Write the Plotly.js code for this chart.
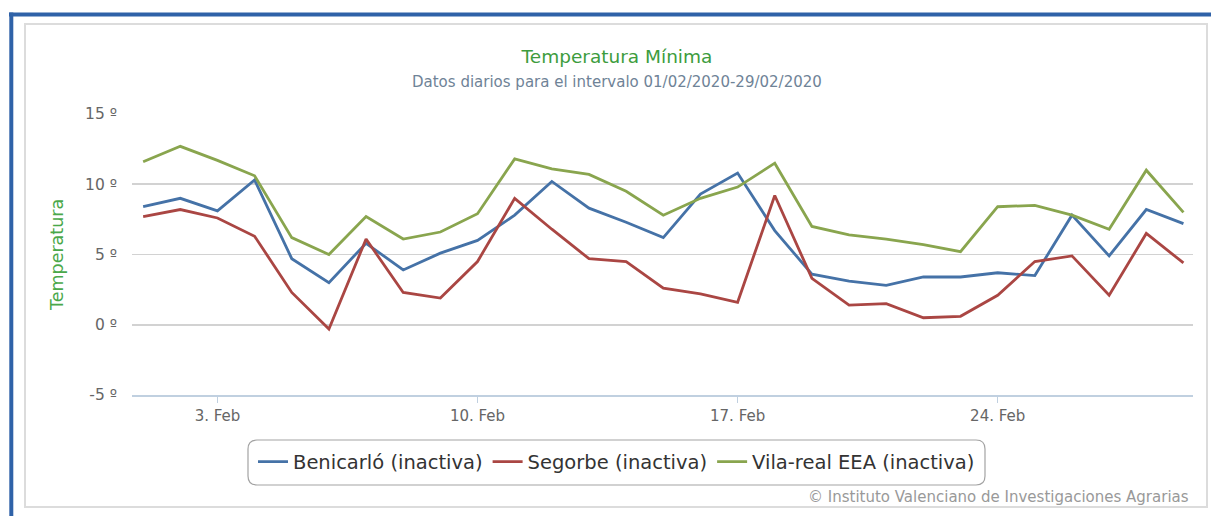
<!DOCTYPE html>
<html>
<head>
<meta charset="utf-8">
<script src="https://cdn.plot.ly/plotly-3.0.1.min.js"></script>
<style>
  html, body { margin: 0; padding: 0; background: #ffffff; }
  #chart { width: 1211px; height: 516px; }
</style>
</head>
<body>
<div id="chart"></div>
<script>
// ---- data ----
const dates = ['2020-02-01','2020-02-02','2020-02-03','2020-02-04','2020-02-05','2020-02-06','2020-02-07',
               '2020-02-08','2020-02-09','2020-02-10','2020-02-11','2020-02-12','2020-02-13','2020-02-14',
               '2020-02-15','2020-02-16','2020-02-17','2020-02-18','2020-02-19','2020-02-20','2020-02-21',
               '2020-02-22','2020-02-23','2020-02-24','2020-02-25','2020-02-26','2020-02-27','2020-02-28','2020-02-29'];
const benicarlo = [8.4, 9.0, 8.1, 10.3, 4.7, 3.0, 5.8, 3.9, 5.1, 6.0, 7.8, 10.2, 8.3, 7.3, 6.2, 9.3, 10.8, 6.7, 3.6, 3.1, 2.8, 3.4, 3.4, 3.7, 3.5, 7.8, 4.9, 8.2, 7.2];
const segorbe   = [7.7, 8.2, 7.6, 6.3, 2.3, -0.3, 6.1, 2.3, 1.9, 4.5, 9.0, 6.8, 4.7, 4.5, 2.6, 2.2, 1.6, 9.2, 3.3, 1.4, 1.5, 0.5, 0.6, 2.1, 4.5, 4.9, 2.1, 6.5, 4.4];
const vilareal  = [11.6, 12.7, 11.7, 10.6, 6.2, 5.0, 7.7, 6.1, 6.6, 7.9, 11.8, 11.1, 10.7, 9.5, 7.8, 9.0, 9.8, 11.5, 7.0, 6.4, 6.1, 5.7, 5.2, 8.4, 8.5, 7.8, 6.8, 11.0, 8.0];
const seriesNames = ['Benicarló (inactiva)', 'Segorbe (inactiva)', 'Vila-real EEA (inactiva)'];
const tickDates  = ['2020-02-03','2020-02-10','2020-02-17','2020-02-24'];
const tickLabels = ['3. Feb','10. Feb','17. Feb','24. Feb'];
const yTicks = [-5, 0, 5, 10, 15];
const yTickLabels = ['-5 º', '0 º', '5 º', '10 º', '15 º'];

// ---- layout helpers (pixel -> paper) ----
const W = 1211, H = 516;
const mL = 132, mR = 18, mT = 114, mB = 121;
const pw = W - mL - mR, ph = H - mT - mB;
const px = x => (x - mL) / pw;
const py = y => (H - mB - y) / ph;

function roundRect(x0, y0, x1, y1, r) {
  const p = (x, y) => px(x) + ',' + py(y);
  return 'M' + p(x0 + r, y0) + ' L' + p(x1 - r, y0) + ' Q' + p(x1, y0) + ' ' + p(x1, y0 + r) +
         ' L' + p(x1, y1 - r) + ' Q' + p(x1, y1) + ' ' + p(x1 - r, y1) +
         ' L' + p(x0 + r, y1) + ' Q' + p(x0, y1) + ' ' + p(x0, y1 - r) +
         ' L' + p(x0, y0 + r) + ' Q' + p(x0, y0) + ' ' + p(x0 + r, y0) + ' Z';
}

const FONT = 'DejaVu Sans, Verdana, sans-serif';
const colors = ['#4572A7', '#AA4643', '#89A54E'];
const values = [benicarlo, segorbe, vilareal];

const traces = values.map((v, i) => ({
  x: dates, y: v, type: 'scatter', mode: 'lines', name: seriesNames[i],
  line: { color: colors[i], width: 2.8 }
}));

const layout = {
  width: W, height: H,
  margin: { l: mL, r: mR, t: mT, b: mB },
  paper_bgcolor: '#ffffff', plot_bgcolor: 'rgba(0,0,0,0)',
  font: { family: FONT, color: '#666666' },
  title: {
    text: 'Temperatura Mínima',
    font: { family: FONT, size: 18.5, color: '#3d9c3d' },
    xref: 'container', yref: 'container',
    x: 617 / W, y: 1 - 57 / H, xanchor: 'center', yanchor: 'middle'
  },
  xaxis: {
    type: 'date',
    range: ['2020-01-31 16:48', '2020-02-29 06:10'],
    tickmode: 'array', tickvals: tickDates, ticktext: tickLabels,
    showgrid: false, zeroline: false,
    showline: true, linecolor: '#c0d0e0', linewidth: 1.5,
    ticks: 'outside', ticklen: 6, tickcolor: '#c0d0e0', tickwidth: 1.5,
    tickfont: { family: FONT, size: 15, color: '#666666' }
  },
  yaxis: {
    range: [-5, 15],
    tickmode: 'array', tickvals: yTicks, ticktext: yTickLabels,
    showgrid: true, gridcolor: '#d2d2d2', gridwidth: 1.6,
    zeroline: false, showline: false, ticks: '',
    ticklabelstandoff: 14,
    tickfont: { family: FONT, size: 15.5, color: '#666666' }
  },
  showlegend: true,
  legend: {
    orientation: 'h', x: px(616.5), xanchor: 'center', y: py(462), yanchor: 'middle',
    bgcolor: 'rgba(0,0,0,0)', borderwidth: 0,
    font: { family: FONT, size: 19.5, color: '#333333' },
    itemwidth: 30
  },
  annotations: [
    { text: 'Datos diarios para el intervalo 01/02/2020-29/02/2020',
      xref: 'paper', yref: 'paper', x: px(617), y: py(82), xanchor: 'center', yanchor: 'middle',
      showarrow: false, font: { family: FONT, size: 15, color: '#6f8397' } },
    { text: 'Temperatura', textangle: -90,
      xref: 'paper', yref: 'paper', x: px(57), y: py(255), xanchor: 'center', yanchor: 'middle',
      showarrow: false, font: { family: FONT, size: 17.5, color: '#4aa84a' } },
    { text: '© Instituto Valenciano de Investigaciones Agrarias',
      xref: 'paper', yref: 'paper', x: px(1191), y: py(497), xanchor: 'right', yanchor: 'middle',
      showarrow: false, font: { family: FONT, size: 15, color: '#999999' } }
  ],
  shapes: [
    // outer blue frame (top and left)
    { type: 'line', xref: 'paper', yref: 'paper', x0: px(9), x1: px(1211), y0: py(14.5), y1: py(14.5),
      line: { color: '#2f62a8', width: 4 } },
    { type: 'line', xref: 'paper', yref: 'paper', x0: px(11.3), x1: px(11.3), y0: py(12.5), y1: py(516),
      line: { color: '#2f62a8', width: 4 } },
    // inner light frame
    { type: 'rect', xref: 'paper', yref: 'paper', x0: px(25), x1: px(1207), y0: py(24), y1: py(507),
      line: { color: '#dcdcdc', width: 2 } },
    // legend box (rounded)
    { type: 'path', xref: 'paper', yref: 'paper', path: roundRect(248, 440, 985, 485, 9),
      line: { color: '#a3a3a3', width: 1.2 } }
  ]
};

Plotly.newPlot('chart', traces, layout, { displayModeBar: false, staticPlot: true });
</script>
</body>
</html>
